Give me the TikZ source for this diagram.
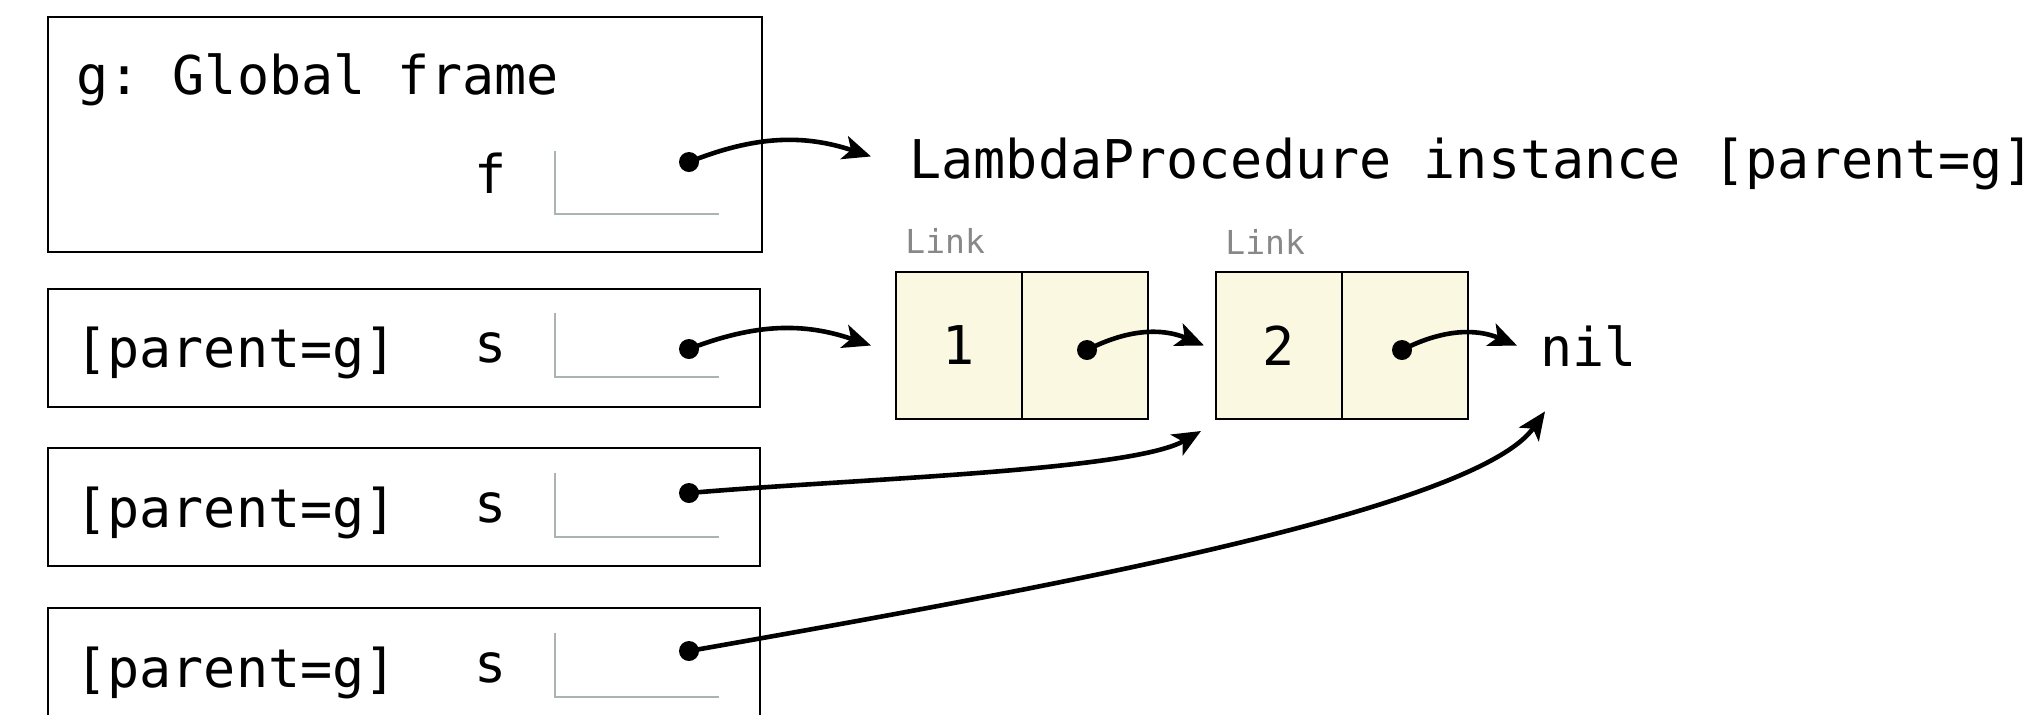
\documentclass[tikz,border=0pt]{standalone}
\usepackage{fontspec}
\setmonofont{DejaVu Sans Mono}
\usetikzlibrary{arrows.meta,positioning}

\definecolor{grigiobox}{RGB}{170,180,180}
\definecolor{crema}{RGB}{250,248,225}
\definecolor{grigiotesto}{RGB}{136,136,136}

\begin{document}
\begin{tikzpicture}[x=0.5pt, y=0.5pt,
		cornice/.style={draw=black, line width=1.3pt},
		valore/.style={draw=grigiobox, line width=1.3pt},
		testo/.style={inner sep=0pt, font=\ttfamily\fontsize{26.7pt}{32pt}\selectfont},
		etichetta/.style={inner sep=0pt, text=grigiotesto, font=\ttfamily\fontsize{16.5pt}{20pt}\selectfont},
		cella/.style={draw=black, fill=crema, line width=1pt, outer sep=0pt, inner sep=0pt,
			minimum width=63pt, minimum height=73.5pt, font=\ttfamily\fontsize{26.7pt}{32pt}\selectfont},
		punto/.style={circle, fill=black, inner sep=0pt, minimum size=10pt},
		ptr/.style={-{Stealth[length=14pt, width=12pt, inset=3.5pt]}, line width=2.3pt}]
		\useasboundingbox (0,0) rectangle (2033,-714);
		\clip (0,0) rectangle (2033,-714);
		% frame globale
		\draw[cornice] (48,-17) rectangle (762,-252);
		\node[testo, anchor=base west] (gtit) at (76,-94) {g: Global frame};
		\node[testo, anchor=base] (fnome) at (491,-193) {f};
		\draw[valore] (555,-151) -- (555,-214) -- (719,-214);
		\node[punto] (pf) at (689,-162) {};
		% frame delle chiamate
		\draw[cornice] (48,-289) rectangle (760,-407);
		\node[testo, anchor=base west] (par1) at (75,-367) {[parent=g]};
		\node[testo, anchor=base] (s1) at (491,-362) {s};
		\draw[valore] (555,-313) -- (555,-377) -- (719,-377);
		\node[punto] (p1) at (689,-349) {};
		\draw[cornice] (48,-448) rectangle (760,-566);
		\node[testo, anchor=base west] (par2) at (75,-527) {[parent=g]};
		\node[testo, anchor=base] (s2) at (491,-522) {s};
		\draw[valore] (555,-473) -- (555,-537) -- (719,-537);
		\node[punto] (p2) at (689,-493) {};
		\draw[cornice] (48,-608) rectangle (760,-726);
		\node[testo, anchor=base west] (par3) at (75,-687) {[parent=g]};
		\node[testo, anchor=base] (s3) at (491,-682) {s};
		\draw[valore] (555,-633) -- (555,-697) -- (719,-697);
		\node[punto] (p3) at (689,-651) {};
		% oggetti
		\node[testo, anchor=base west] (lam) at (909,-178) {LambdaProcedure instance [parent=g]};
		\node[etichetta, anchor=base west] (et1) at (905,-253) {Link};
		\node[etichetta, anchor=base west] (et2) at (1225,-254) {Link};
		\node[cella] (l1a) at (959,-345.5) {1};
		\node[cella, right=0pt of l1a] (l1b) {};
		\node[cella, right=34pt of l1b] (l2a) {2};
		\node[cella, right=0pt of l2a] (l2b) {};
		\node[testo, anchor=base west] (nil) at (1540,-366) {nil};
		\node[punto] (pl1) at (1087,-350) {};
		\node[punto] (pl2) at (1402,-350) {};
		% frecce
		\draw[ptr] (pf.center) to[bend left=20] ([shift={(-38,7)}]lam.west);
		\draw[ptr] (p1.center) to[bend left=20] ([xshift=-12.5pt]l1a.west);
		\draw[ptr] (pl1.center) to[bend left=25] ([xshift=-6pt]l2a.west);
		\draw[ptr] (pl2.center) to[bend left=25] ([xshift=-11.5pt]nil.west);
		\draw[ptr] (p2.center) to[out=5, in=210, out looseness=0.8, in looseness=0.4] ([shift={(-15,-12)}]l2a.south west);
		\draw[ptr] (p3.center) to[out=10, in=235, out looseness=1, in looseness=0.35] ([shift={(5,-45)}]nil.south west);
	\end{tikzpicture}
\end{document}
